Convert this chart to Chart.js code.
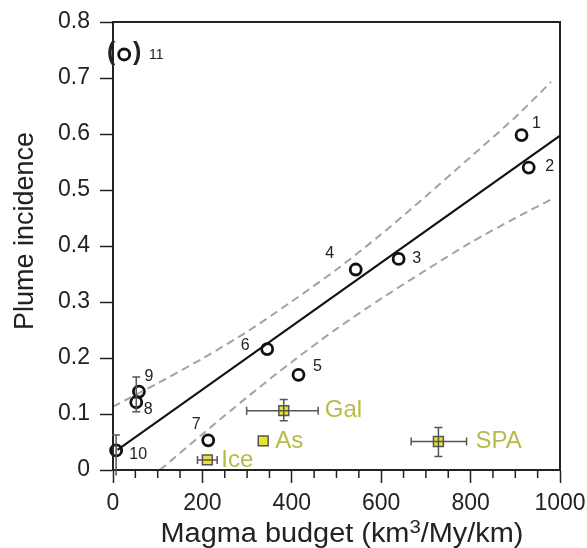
<!DOCTYPE html>
<html>
<head>
<meta charset="utf-8">
<script src="https://cdn.jsdelivr.net/npm/chart.js@4.4.1/dist/chart.umd.min.js"></script>
<style>
body { margin: 0; background: #ffffff; }
canvas { display: block; }
</style>
</head>
<body>
<canvas id="plumeChart" width="587" height="548"></canvas>
<script>
// ridge segments (open circles)
let ridgeNames = ["1", "2", "3", "4", "5", "6", "7", "8", "9", "10"];
let ridgeBudget = [914, 930, 639, 543, 415, 345, 213, 52, 58, 7];
let ridgePlume = [0.598, 0.540, 0.377, 0.358, 0.170, 0.216, 0.053, 0.121, 0.140, 0.035];
let ridgeErrLow = [null, null, null, null, null, null, null, 0.104, null, -0.01];
let ridgeErrHigh = [null, null, null, null, null, null, null, 0.166, null, 0.0625];

// point 11, shown in brackets
let outlierName = "11";
let outlierBudget = [25];
let outlierPlume = [0.742];

// hotspot ridges (yellow squares)
let hotspotNames = ["Ice", "As", "Gal", "SPA"];
let hotspotBudget = [211, 336, 382, 728];
let hotspotPlume = [0.018, 0.052, 0.106, 0.051];
let hotspotBudgetLow = [189, null, 299, 667];
let hotspotBudgetHigh = [233, null, 459, 791];
let hotspotPlumeLow = [null, null, 0.088, 0.024];
let hotspotPlumeHigh = [null, null, 0.126, 0.076];

// regression line and confidence band
let fitBudget = [10, 1000];
let fitPlume = [0.036, 0.597];
let upperBudget = [0, 100, 200, 300, 400, 500, 600, 700, 800, 900, 980];
let upperPlume = [0.113, 0.155, 0.199, 0.247, 0.301, 0.358, 0.421, 0.489, 0.559, 0.630, 0.693];
let lowerBudget = [105, 200, 300, 400, 500, 600, 700, 800, 900, 980];
let lowerPlume = [0.0, 0.064, 0.130, 0.193, 0.252, 0.306, 0.357, 0.406, 0.450, 0.483];

let minorTicks = [50, 100, 150, 250, 300, 350, 450, 500, 550, 650, 700, 750, 850, 900, 950];

// label placement (pixels from the mark)
let ridgeLabelOffsets = [[15, -12], [21, -1], [18, 0], [-26, -16], [19, -8], [-22, -3], [-12, -16], [12, 7], [10, -15], [22, 4]];
let hotspotLabelOffsets = [14, 12, 41, 37];

let fontFamily = "'Liberation Sans', Arial, Helvetica, sans-serif";
let inkColor = "#222222";
let hotspotTextColor = "#b7ba48";

function toPoints(xs, ys) {
    let points = [];
    for (let i = 0; i < xs.length; i++) {
        points.push({ x: xs[i], y: ys[i] });
    }
    return points;
}

function drawErrorBar(ctx, xScale, yScale, x, y, xLow, xHigh, yLow, yHigh) {
    let px = xScale.getPixelForValue(x);
    let py = yScale.getPixelForValue(y);
    let cap = 4;

    ctx.beginPath();
    if (xLow !== null) {
        let left = xScale.getPixelForValue(xLow);
        let right = xScale.getPixelForValue(xHigh);
        ctx.moveTo(left, py);
        ctx.lineTo(right, py);
        ctx.moveTo(left, py - cap);
        ctx.lineTo(left, py + cap);
        ctx.moveTo(right, py - cap);
        ctx.lineTo(right, py + cap);
    }
    if (yLow !== null) {
        let top = yScale.getPixelForValue(yHigh);
        let bottom = yScale.getPixelForValue(yLow);
        ctx.moveTo(px, top);
        ctx.lineTo(px, bottom);
        ctx.moveTo(px - cap, top);
        ctx.lineTo(px + cap, top);
        if (yLow > 0) {
            ctx.moveTo(px - cap, bottom);
            ctx.lineTo(px + cap, bottom);
        }
    }
    ctx.stroke();
}

let extrasPlugin = {
    id: "extras",
    afterDatasetsDraw: function(chart) {
        let ctx = chart.ctx;
        let xScale = chart.scales.x;
        let yScale = chart.scales.y;
        let area = chart.chartArea;

        ctx.save();

        // frame
        ctx.strokeStyle = inkColor;
        ctx.lineWidth = 2;
        ctx.strokeRect(area.left, area.top, area.right - area.left, area.bottom - area.top);

        // minor ticks on x
        ctx.lineWidth = 1.5;
        ctx.beginPath();
        for (let i = 0; i < minorTicks.length; i++) {
            let px = xScale.getPixelForValue(minorTicks[i]);
            ctx.moveTo(px, area.bottom);
            ctx.lineTo(px, area.bottom + 8);
        }
        ctx.stroke();

        // error bars
        ctx.strokeStyle = "#555555";
        ctx.lineWidth = 1.5;
        for (let i = 0; i < hotspotNames.length; i++) {
            drawErrorBar(ctx, xScale, yScale, hotspotBudget[i], hotspotPlume[i],
                hotspotBudgetLow[i], hotspotBudgetHigh[i], hotspotPlumeLow[i], hotspotPlumeHigh[i]);
        }
        for (let i = 0; i < ridgeNames.length; i++) {
            if (ridgeErrLow[i] !== null) {
                drawErrorBar(ctx, xScale, yScale, ridgeBudget[i], ridgePlume[i],
                    null, null, ridgeErrLow[i], ridgeErrHigh[i]);
            }
        }

        // ridge numbers
        ctx.fillStyle = inkColor;
        ctx.font = "16px " + fontFamily;
        ctx.textAlign = "center";
        ctx.textBaseline = "middle";
        for (let i = 0; i < ridgeNames.length; i++) {
            let px = xScale.getPixelForValue(ridgeBudget[i]);
            let py = yScale.getPixelForValue(ridgePlume[i]);
            ctx.fillText(ridgeNames[i], px + ridgeLabelOffsets[i][0], py + ridgeLabelOffsets[i][1]);
        }

        // bracketed point 11
        let ox = xScale.getPixelForValue(outlierBudget[0]);
        let oy = yScale.getPixelForValue(outlierPlume[0]);
        ctx.font = "14px " + fontFamily;
        ctx.fillText(outlierName, ox + 32, oy + 1);
        ctx.font = "bold 25px " + fontFamily;
        ctx.fillText("(", ox - 13, oy - 1);
        ctx.fillText(")", ox + 13, oy - 1);

        // hotspot names
        ctx.fillStyle = hotspotTextColor;
        ctx.font = "24px " + fontFamily;
        ctx.textAlign = "left";
        for (let i = 0; i < hotspotNames.length; i++) {
            let px = xScale.getPixelForValue(hotspotBudget[i]);
            let py = yScale.getPixelForValue(hotspotPlume[i]);
            ctx.fillText(hotspotNames[i], px + hotspotLabelOffsets[i], py);
        }

        // axis titles
        ctx.fillStyle = inkColor;
        ctx.textBaseline = "alphabetic";
        ctx.save();
        ctx.translate(33, 231);
        ctx.rotate(-Math.PI / 2);
        ctx.textAlign = "center";
        ctx.font = "27px " + fontFamily;
        ctx.fillText("Plume incidence", 0, 0);
        ctx.restore();

        ctx.save();
        ctx.translate(342, 542);
        ctx.scale(1.07, 1);
        ctx.textAlign = "left";
        let partA = "Magma budget (km";
        let partB = "3";
        let partC = "/My/km)";
        ctx.font = "27px " + fontFamily;
        let wA = ctx.measureText(partA).width;
        let wC = ctx.measureText(partC).width;
        ctx.font = "19px " + fontFamily;
        let wB = ctx.measureText(partB).width;
        let start = -(wA + wB + wC) / 2;
        ctx.font = "27px " + fontFamily;
        ctx.fillText(partA, start, 0);
        ctx.font = "19px " + fontFamily;
        ctx.fillText(partB, start + wA, -9);
        ctx.font = "27px " + fontFamily;
        ctx.fillText(partC, start + wA + wB, 0);
        ctx.restore();

        ctx.restore();
    }
};

let chart = new Chart(document.getElementById("plumeChart"), {
    type: "scatter",
    data: {
        datasets: [
            {
                type: "line",
                data: toPoints(upperBudget, upperPlume),
                borderColor: "#a3a3a3",
                borderWidth: 2,
                borderDash: [8, 5],
                pointRadius: 0,
                tension: 0.3,
                fill: false
            },
            {
                type: "line",
                data: toPoints(lowerBudget, lowerPlume),
                borderColor: "#a3a3a3",
                borderWidth: 2,
                borderDash: [8, 5],
                pointRadius: 0,
                tension: 0.3,
                fill: false
            },
            {
                type: "line",
                data: toPoints(fitBudget, fitPlume),
                borderColor: "#111111",
                borderWidth: 2,
                pointRadius: 0,
                fill: false
            },
            {
                data: toPoints(ridgeBudget, ridgePlume),
                pointStyle: "circle",
                pointRadius: 5.5,
                borderWidth: 2.8,
                borderColor: "#111111",
                backgroundColor: "rgba(255,255,255,0)",
                clip: false
            },
            {
                data: toPoints(outlierBudget, outlierPlume),
                pointStyle: "circle",
                pointRadius: 5.5,
                borderWidth: 2.8,
                borderColor: "#111111",
                backgroundColor: "rgba(255,255,255,0)",
                clip: false
            },
            {
                data: toPoints(hotspotBudget, hotspotPlume),
                pointStyle: "rect",
                pointRadius: 7,
                borderWidth: 1.5,
                borderColor: "#555555",
                backgroundColor: "#e4e434",
                clip: false
            }
        ]
    },
    options: {
        responsive: false,
        animation: false,
        events: [],
        layout: {
            padding: { left: 0, top: 22, right: 27, bottom: 0 }
        },
        plugins: {
            legend: { display: false },
            tooltip: { enabled: false }
        },
        scales: {
            x: {
                type: "linear",
                min: 0,
                max: 1000,
                border: { color: inkColor, width: 2 },
                grid: {
                    drawOnChartArea: false,
                    tickLength: 13,
                    tickColor: inkColor,
                    tickWidth: 1.5
                },
                ticks: {
                    stepSize: 200,
                    padding: 7,
                    color: inkColor,
                    maxRotation: 0,
                    font: { family: fontFamily, size: 23 },
                    callback: function(value) {
                        return String(value);
                    }
                },
                afterFit: function(scale) {
                    scale.height = 78;
                    scale.paddingLeft = 0;
                    scale.paddingRight = 0;
                }
            },
            y: {
                type: "linear",
                min: 0,
                max: 0.8,
                border: { color: inkColor, width: 2 },
                grid: {
                    drawOnChartArea: false,
                    tickLength: 13,
                    tickColor: inkColor,
                    tickWidth: 1.5
                },
                ticks: {
                    stepSize: 0.1,
                    padding: 10,
                    color: inkColor,
                    font: { family: fontFamily, size: 23 },
                    callback: function(value) {
                        if (Math.abs(value) < 1e-9) {
                            return "0";
                        }
                        return value.toFixed(1);
                    }
                },
                afterFit: function(scale) {
                    scale.width = 113;
                    scale.paddingTop = 0;
                    scale.paddingBottom = 0;
                }
            }
        }
    },
    plugins: [extrasPlugin]
});
</script>
</body>
</html>
